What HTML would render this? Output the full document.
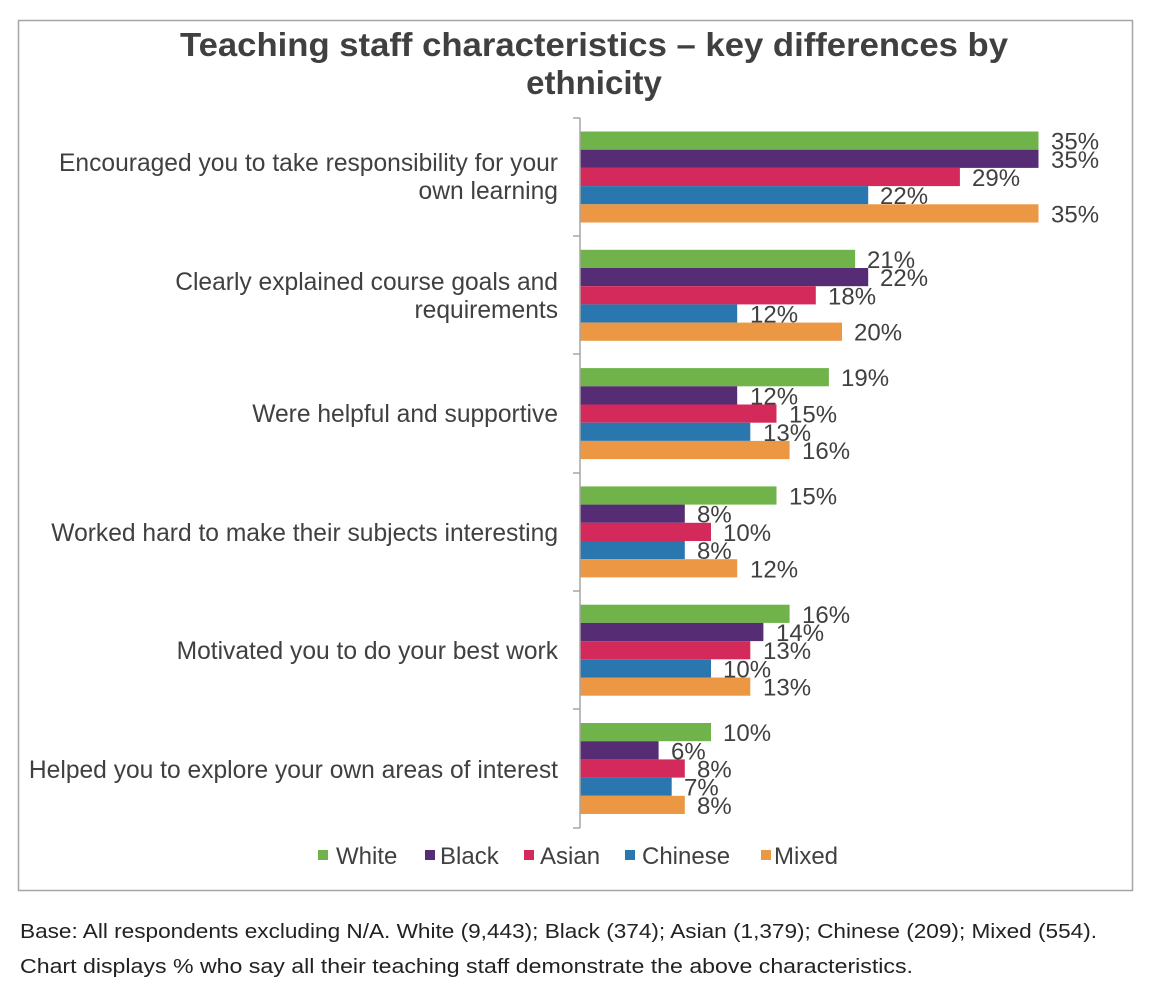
<!DOCTYPE html>
<html><head><meta charset="utf-8"><style>
body{margin:0;background:#fff;}
svg{display:block;font-family:"Liberation Sans",Arial,sans-serif;}
</style></head><body>
<svg width="1160" height="992" viewBox="0 0 1160 992" xmlns="http://www.w3.org/2000/svg">
<rect x="18.5" y="20.5" width="1114" height="870" fill="#fff" stroke="#a6a6a6" stroke-width="1.5"/>
<text x="594" y="56" text-anchor="middle" font-size="33" font-weight="bold" fill="#404040" textLength="828" lengthAdjust="spacingAndGlyphs">Teaching staff characteristics – key differences by</text>
<text x="594" y="94" text-anchor="middle" font-size="33" font-weight="bold" fill="#404040">ethnicity</text>
<g>
<rect x="580" y="131.5" width="458.5" height="18.2" fill="#70b34b"/>
<rect x="580" y="149.7" width="458.5" height="18.2" fill="#562d74"/>
<rect x="580" y="167.9" width="379.9" height="18.2" fill="#d42a5b"/>
<rect x="580" y="186.1" width="288.2" height="18.2" fill="#2a76ae"/>
<rect x="580" y="204.3" width="458.5" height="18.2" fill="#ec9744"/>

<rect x="580" y="249.8" width="275.1" height="18.2" fill="#70b34b"/>
<rect x="580" y="268.0" width="288.2" height="18.2" fill="#562d74"/>
<rect x="580" y="286.2" width="235.8" height="18.2" fill="#d42a5b"/>
<rect x="580" y="304.4" width="157.2" height="18.2" fill="#2a76ae"/>
<rect x="580" y="322.6" width="262.0" height="18.2" fill="#ec9744"/>

<rect x="580" y="368.1" width="248.9" height="18.2" fill="#70b34b"/>
<rect x="580" y="386.3" width="157.2" height="18.2" fill="#562d74"/>
<rect x="580" y="404.5" width="196.5" height="18.2" fill="#d42a5b"/>
<rect x="580" y="422.7" width="170.3" height="18.2" fill="#2a76ae"/>
<rect x="580" y="440.9" width="209.6" height="18.2" fill="#ec9744"/>

<rect x="580" y="486.4" width="196.5" height="18.2" fill="#70b34b"/>
<rect x="580" y="504.6" width="104.8" height="18.2" fill="#562d74"/>
<rect x="580" y="522.8" width="131.0" height="18.2" fill="#d42a5b"/>
<rect x="580" y="541.0" width="104.8" height="18.2" fill="#2a76ae"/>
<rect x="580" y="559.2" width="157.2" height="18.2" fill="#ec9744"/>

<rect x="580" y="604.7" width="209.6" height="18.2" fill="#70b34b"/>
<rect x="580" y="622.9" width="183.4" height="18.2" fill="#562d74"/>
<rect x="580" y="641.1" width="170.3" height="18.2" fill="#d42a5b"/>
<rect x="580" y="659.3" width="131.0" height="18.2" fill="#2a76ae"/>
<rect x="580" y="677.5" width="170.3" height="18.2" fill="#ec9744"/>

<rect x="580" y="723.0" width="131.0" height="18.2" fill="#70b34b"/>
<rect x="580" y="741.2" width="78.6" height="18.2" fill="#562d74"/>
<rect x="580" y="759.4" width="104.8" height="18.2" fill="#d42a5b"/>
<rect x="580" y="777.6" width="91.7" height="18.2" fill="#2a76ae"/>
<rect x="580" y="795.8" width="104.8" height="18.2" fill="#ec9744"/>
</g>
<g font-size="24" fill="#404040">
<text x="1051" y="149.6">35%</text><text x="1051" y="167.8">35%</text><text x="972" y="186">29%</text><text x="880" y="204.2">22%</text><text x="1051" y="222.4">35%</text>
<text x="867" y="267.9">21%</text><text x="880" y="286.1">22%</text><text x="828" y="304.3">18%</text><text x="750" y="322.5">12%</text><text x="854" y="340.7">20%</text>
<text x="841" y="386.2">19%</text><text x="750" y="404.4">12%</text><text x="789" y="422.6">15%</text><text x="763" y="440.8">13%</text><text x="802" y="459">16%</text>
<text x="789" y="504.5">15%</text><text x="697" y="522.7">8%</text><text x="723" y="540.9">10%</text><text x="697" y="559.1">8%</text><text x="750" y="577.3">12%</text>
<text x="802" y="622.8">16%</text><text x="776" y="641">14%</text><text x="763" y="659.2">13%</text><text x="723" y="677.4">10%</text><text x="763" y="695.6">13%</text>
<text x="723" y="741.1">10%</text><text x="671" y="759.3">6%</text><text x="697" y="777.5">8%</text><text x="684" y="795.7">7%</text><text x="697" y="813.9">8%</text>
</g>
<line x1="580" y1="118" x2="580" y2="828" stroke="#a6a6a6" stroke-width="1.5"/>
<g stroke="#a6a6a6" stroke-width="1.5">
<line x1="573" y1="118" x2="580" y2="118"/><line x1="573" y1="236" x2="580" y2="236"/>
<line x1="573" y1="354" x2="580" y2="354"/><line x1="573" y1="473" x2="580" y2="473"/>
<line x1="573" y1="591" x2="580" y2="591"/><line x1="573" y1="709" x2="580" y2="709"/>
<line x1="573" y1="828" x2="580" y2="828"/>
</g>
<g font-size="24.6" fill="#404040" text-anchor="end">
<text x="558" y="171">Encouraged you to take responsibility for your</text>
<text x="558" y="199">own learning</text>
<text x="558" y="290">Clearly explained course goals and</text>
<text x="558" y="318">requirements</text>
<text x="558" y="422">Were helpful and supportive</text>
<text x="558" y="541">Worked hard to make their subjects interesting</text>
<text x="558" y="659">Motivated you to do your best work</text>
<text x="558" y="778">Helped you to explore your own areas of interest</text>
</g>
<g font-size="24" fill="#404040">
<rect x="318" y="850" width="10" height="10" fill="#70b34b"/><text x="336" y="864">White</text>
<rect x="425" y="850" width="10" height="10" fill="#562d74"/><text x="440" y="864">Black</text>
<rect x="524" y="850" width="10" height="10" fill="#d42a5b"/><text x="540" y="864">Asian</text>
<rect x="625" y="850" width="10" height="10" fill="#2a76ae"/><text x="642" y="864">Chinese</text>
<rect x="761" y="850" width="10" height="10" fill="#ec9744"/><text x="774" y="864">Mixed</text>
</g>
<g font-size="20" fill="#222">
<text x="20" y="938" textLength="1077" lengthAdjust="spacingAndGlyphs">Base: All respondents excluding N/A. White (9,443); Black (374); Asian (1,379); Chinese (209); Mixed (554).</text>
<text x="20" y="973" textLength="893" lengthAdjust="spacingAndGlyphs">Chart displays % who say all their teaching staff demonstrate the above characteristics.</text>
</g>
</svg>
</body></html>
